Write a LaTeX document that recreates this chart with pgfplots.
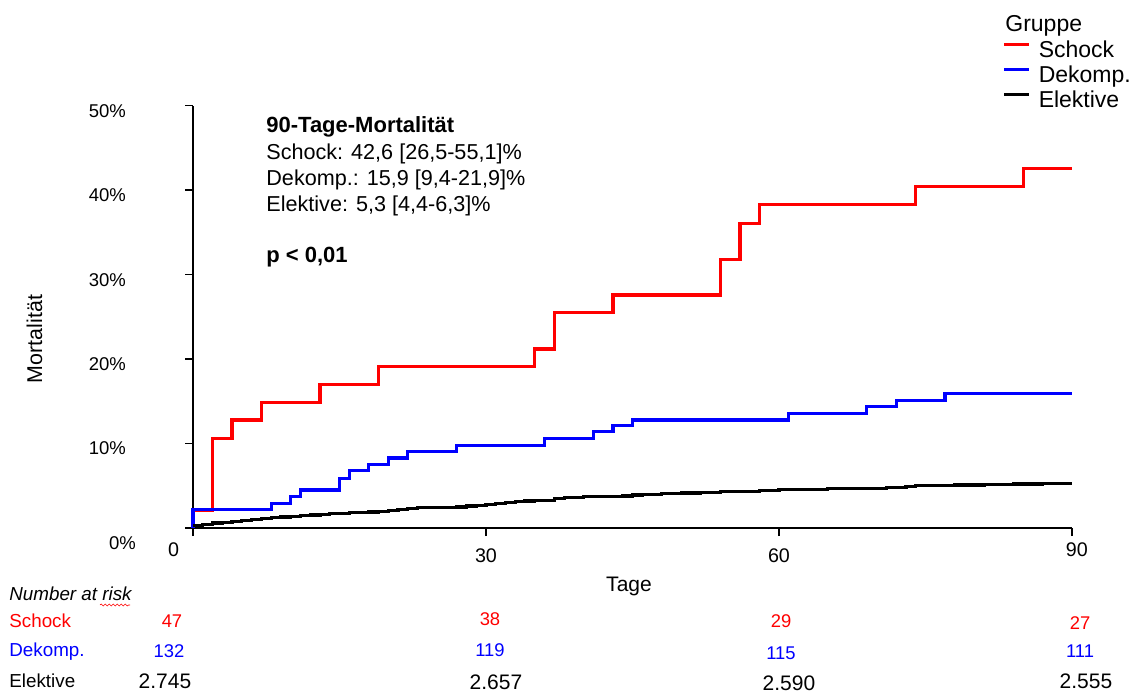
\documentclass[border=0pt]{standalone}
\usepackage{pgfplots}
\pgfplotsset{compat=1.18}
\usepackage{fontspec}
\setmainfont{Liberation Sans}
\usetikzlibrary{decorations.pathmorphing}
\definecolor{kred}{RGB}{255,0,0}
\definecolor{kblue}{RGB}{0,0,255}
\newcommand{\fs}[1]{\fontsize{#1}{#1}\selectfont}
\begin{document}
\begin{tikzpicture}
\useasboundingbox (0,0) rectangle (568.5pt,-346.5pt);
\begin{axis}[
  at={(96.5pt,-264pt)}, anchor=south west,
  scale only axis, width=439.5pt, height=211.15pt,
  xmin=0, xmax=90, ymin=0, ymax=50,
  axis lines=left, axis line style={line width=0.75pt,-},
  tick align=outside, major tick length=4pt,
  tick style={line width=0.75pt,black},
  xtick={0,30,60,90},
  xticklabels={\makebox[0pt][r]{0\hspace{7pt}},\raisebox{-3pt}[\height][\depth]{30},\raisebox{-3pt}[\height][\depth]{60},\makebox[0pt][l]{\hspace{-3pt}90}},
  ytick={0,10,20,30,40,50},
  yticklabels={{\raisebox{-5pt}[\height][\depth]{0\%}\hspace*{-5pt}},10\%,20\%,30\%,40\%,50\%},
  xticklabel style={font=\fs{9.85}},
  yticklabel style={font=\fs{9.25}, xshift=-26pt, yshift=-2.5pt},
  clip=false,
  legend style={at={(axis description cs:0.921,1.158)}, anchor=north west,
    draw=none, fill=none, inner sep=0pt, outer sep=0pt,
    font=\fs{11.5}, row sep=0pt,
    nodes={inner sep=0pt, text height=9pt, text depth=3.5pt},
    /tikz/every odd column/.append style={column sep=4pt}},
  legend cell align=left,
  legend image code/.code={\draw[#1] (0pt,0.35em) -- (12.5pt,0.35em);},
  every axis plot/.append style={line width=1.6pt, const plot, mark=none},
]
\addplot[kred] coordinates {
(0,0) (0,2.1) (2,10.6) (4,12.8) (7,14.9) (13,17.0) (19,19.1) (35,21.2) (37,25.5)
(43,27.6) (54,31.8) (56,36.1) (58,38.3) (74,40.4) (85,42.6) (90,42.6)};
\addlegendentry{Schock}
\addplot[kblue] coordinates {
(0,0) (0,2.2) (8,2.9) (10,3.7) (11,4.5) (15,5.9) (16,6.8) (18,7.5) (20,8.3) (22,9.1)
(27,9.8) (36,10.6) (41,11.4) (43,12.1) (45,12.8) (61,13.6) (69,14.4) (72,15.1)
(77,15.9) (90,15.9)};
\addlegendentry{Dekomp.}
\addplot[black] coordinates {
(0,0.3) (1,0.45) (2,0.6) (3,0.7) (4,0.8) (5,0.9) (6,1.0) (7,1.1) (8,1.2) (9,1.3)
(10,1.4) (11,1.45) (12,1.55) (13,1.6) (14,1.7) (15,1.75) (16,1.8) (17,1.85) (18,1.9)
(19,1.95) (20,2.05) (21,2.15) (22,2.3) (23,2.4) (25,2.45) (27,2.5) (28,2.6) (29,2.7)
(30,2.8) (31,2.9) (32,3.0) (33,3.1) (34,3.2) (35,3.25) (36,3.3) (37,3.5) (38,3.6)
(40,3.7) (42,3.75) (44,3.8) (45,3.9) (46,3.95) (47,4.0) (48,4.05) (49,4.1) (50,4.15)
(52,4.2) (54,4.3) (56,4.35) (58,4.45) (60,4.55) (62,4.6) (65,4.65) (68,4.7) (71,4.8)
(73,4.9) (74,5.0) (76,5.05) (78,5.1) (81,5.15) (84,5.2) (87,5.25) (90,5.25)};
\addlegendentry{Elektive}
\end{axis}
\begin{scope}[x=0.5pt,y=-0.5pt]
% legend title
\node[anchor=base west, inner sep=0pt, font=\fs{11.5}] at (1005,31.3) {Gruppe};
% axis titles
\node[anchor=base, inner sep=0pt, font=\fs{10.5}] at (629,591.7) {Tage};
\node[anchor=base, inner sep=0pt, rotate=90, font=\fs{10.7}] at (42,339) {Mortalität};
% annotation
\node[anchor=base west, inner sep=0pt, font=\fs{11}\bfseries] at (266,132.3) {90-Tage-Mortalität};
\node[anchor=base west, inner sep=0pt, font=\fs{10.8}] at (266,159) {Schock: 42,6 [26,5-55,1]\%};
\node[anchor=base west, inner sep=0pt, font=\fs{10.8}] at (266,185.7) {Dekomp.: 15,9 [9,4-21,9]\%};
\node[anchor=base west, inner sep=0pt, font=\fs{10.8}] at (266,211) {Elektive: 5,3 [4,4-6,3]\%};
\node[anchor=base west, inner sep=0pt, font=\fs{11}\bfseries] at (266,262.7) {p < 0,01};
% number at risk
\node[anchor=base west, inner sep=0pt, font=\fs{9.4}\itshape] at (9,600.7) {Number at risk};
\draw[kred, line width=0.3pt, decorate, decoration={snake, amplitude=0.5pt, segment length=2pt}] (100,605) -- (130,605);
\node[anchor=base west, inner sep=0pt, font=\fs{9.4}, text=kred] at (9,627.5) {Schock};
\node[anchor=base west, inner sep=0pt, font=\fs{9.4}, text=kblue] at (9,656) {Dekomp.};
\node[anchor=base west, inner sep=0pt, font=\fs{9.4}] at (9,687) {Elektive};
\foreach \xx/\yy/\t in {172/627/47, 490/625/38, 781/627/29, 1080/629/27}
  \node[anchor=base, inner sep=0pt, font=\fs{9.2}, text=kred] at (\xx,\yy) {\t};
\foreach \xx/\yy/\t in {169/657/132, 490/656/119, 781/659/115, 1080/657/111}
  \node[anchor=base, inner sep=0pt, font=\fs{9.2}, text=kblue] at (\xx,\yy) {\t};
\foreach \xx/\yy/\t in {165/688/2.745, 496/689/2.657, 789/690/2.590, 1086/688/2.555}
  \node[anchor=base, inner sep=0pt, font=\fs{10.5}] at (\xx,\yy) {\t};
\end{scope}
\end{tikzpicture}
\end{document}
